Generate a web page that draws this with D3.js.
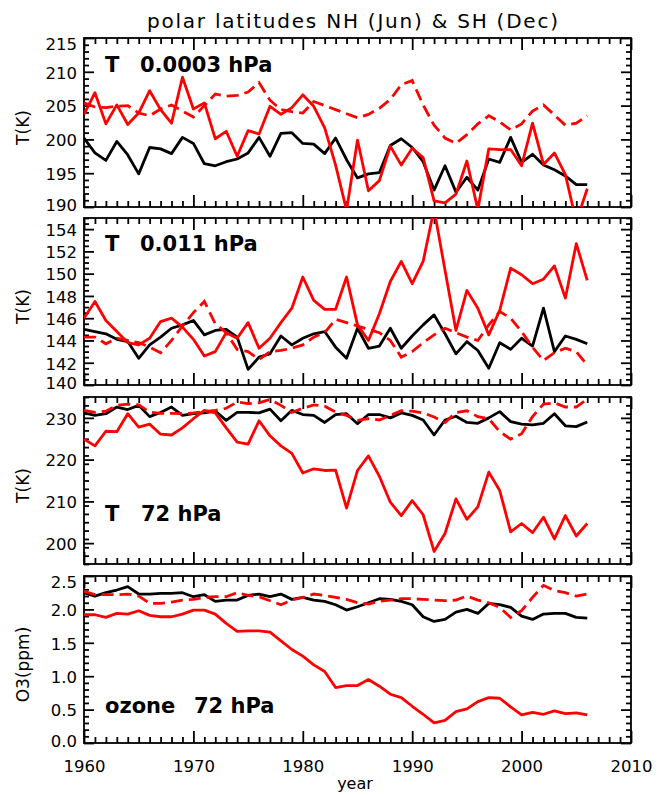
<!DOCTYPE html>
<html><head><meta charset="utf-8">
<script src="https://cdn.jsdelivr.net/npm/d3@7"></script>
<style>
body{margin:0;background:#fff}
svg text{font-family:"DejaVu Sans",sans-serif;fill:#000}
</style>
</head><body>
<svg id="c" width="663" height="795"></svg>
<script>
// ---------------- data ----------------
const years = [1960,1961,1962,1963,1964,1965,1966,1967,1968,1969,
               1970,1971,1972,1973,1974,1975,1976,1977,1978,1979,
               1980,1981,1982,1983,1984,1985,1986,1987,1988,1989,
               1990,1991,1992,1993,1994,1995,1996,1997,1998,1999,
               2000,2001,2002,2003,2004,2005,2006];
const xTickLabels = [1960,1970,1980,1990,2000,2010];

// T at 0.0003 hPa
const p1Black = [200.2,198.0,196.9,199.7,197.7,194.9,198.8,198.6,197.9,200.3,
                 199.4,196.4,196.1,196.7,197.1,198.0,200.3,197.5,200.9,201.0,
                 199.4,199.3,197.9,200.2,197.0,194.3,194.9,195.1,199.1,200.1,
                 198.8,196.7,192.5,196.1,192.2,194.4,192.5,197.1,196.6,200.3,
                 196.6,197.8,196.2,195.5,194.6,193.3,193.3];
const p1Red   = [203.7,206.9,202.3,205.1,202.2,203.9,207.2,204.4,202.4,209.2,
                 204.5,205.4,200.1,201.2,197.5,201.3,200.8,204.9,203.7,204.7,
                 206.6,204.9,201.7,196.2,189.5,199.9,192.4,193.9,199.0,196.2,
                 198.7,197.3,190.9,190.6,191.9,196.8,189.6,198.6,198.5,198.5,
                 196.1,202.4,196.3,198.0,194.8,187.8,192.7];
const p1Dash  = [205.4,204.8,204.7,204.9,205.0,203.9,203.5,204.5,205.1,204.2,
                 203.3,205.0,206.7,206.4,206.5,207.0,208.4,205.8,204.4,204.1,
                 203.9,205.6,205.0,204.4,203.8,203.2,203.7,204.6,205.9,208.1,
                 208.7,205.1,202.1,200.2,199.4,200.7,202.3,203.5,202.6,201.4,
                 202.3,204.2,205.1,203.6,202.1,202.4,203.5];
const p1Ticks = [190,195,200,205,210,215];

// T at 0.011 hPa
const p2Black = [145.0,144.8,144.6,144.1,143.9,142.4,143.6,144.3,145.1,145.4,
                 145.8,144.5,144.9,145.0,144.3,141.4,142.5,142.8,144.4,143.6,
                 144.2,144.6,144.8,143.4,142.4,145.1,143.3,143.5,145.1,143.3,
                 144.4,145.4,146.3,144.6,142.8,143.9,143.1,141.5,143.8,143.2,
                 144.2,143.5,146.9,143.0,144.4,144.1,143.7];
const p2Red   = [146.0,147.5,145.8,144.8,143.8,143.6,144.2,145.7,146.0,145.2,
                 144.1,142.6,143.0,144.7,144.2,145.6,143.3,144.2,145.6,146.9,
                 149.7,147.6,146.8,146.8,149.7,145.4,144.0,146.4,149.3,151.1,
                 149.1,151.1,155.8,150.3,144.9,148.5,146.9,144.5,146.7,150.5,
                 149.9,149.1,149.5,150.7,147.8,152.7,149.4];
const p2Dash  = [144.3,144.3,143.7,144.2,144.0,143.8,143.4,142.9,144.0,145.3,
                 146.5,147.5,145.5,144.7,143.2,143.0,142.3,143.0,143.1,143.3,
                 143.6,144.3,144.7,145.9,145.6,145.3,145.0,144.7,144.0,142.5,
                 143.0,143.8,144.5,145.1,144.7,144.3,144.0,145.4,146.6,146.0,
                 144.8,143.4,142.2,142.9,143.3,143.0,141.8];
const p2Ticks = [140,142,144,146,148,150,152,154];

// T at 72 hPa
const p3Black = [231.2,230.6,231.0,232.6,232.0,233.0,230.3,231.3,232.6,230.6,
                 231.0,231.2,231.6,229.4,231.3,231.3,231.2,232.1,229.3,231.8,
                 230.8,230.6,228.9,230.8,231.0,228.6,230.8,230.8,230.0,231.2,
                 230.6,229.5,225.9,229.5,230.4,228.9,228.7,230.0,231.5,229.1,
                 228.5,228.3,228.7,231.0,228.1,227.9,229.0];
const p3Red   = [224.9,223.3,226.8,226.7,231.0,227.8,228.5,226.1,225.9,227.6,
                 229.8,231.8,231.2,227.6,224.2,223.7,229.3,225.7,223.3,221.5,
                 216.8,217.8,217.4,217.5,208.4,217.4,220.9,216.0,209.8,206.6,
                 210.2,206.8,198.0,202.3,210.6,205.7,208.7,217.0,212.6,202.7,
                 204.7,202.5,206.2,201.0,206.6,201.7,204.7];
const p3Dash  = [231.8,231.3,231.6,233.0,233.3,233.1,231.4,231.1,231.1,231.0,
                 231.2,231.5,231.8,232.3,233.8,233.4,233.6,234.4,233.0,231.3,
                 232.3,233.1,232.8,231.4,230.6,229.4,229.8,229.5,230.6,231.7,
                 231.6,231.2,230.2,228.9,231.3,231.7,230.3,229.8,226.7,224.9,
                 226.2,230.3,233.3,233.6,232.6,232.6,234.5];
const p3Ticks = [200,210,220,230];

// ozone at 72 hPa
const p4Black = [2.25,2.20,2.25,2.29,2.34,2.23,2.23,2.24,2.24,2.25,
                 2.19,2.22,2.12,2.14,2.14,2.21,2.23,2.19,2.23,2.15,
                 2.18,2.14,2.12,2.07,1.99,2.04,2.10,2.16,2.15,2.12,
                 2.07,1.89,1.82,1.85,1.96,2.00,1.94,2.09,2.07,2.03,
                 1.90,1.85,1.93,1.94,1.94,1.88,1.87];
const p4Red   = [1.92,1.92,1.88,1.94,1.93,1.98,1.91,1.89,1.89,1.93,
                 1.99,1.99,1.93,1.79,1.67,1.68,1.68,1.66,1.53,1.40,
                 1.30,1.17,1.07,0.83,0.86,0.86,0.95,0.85,0.73,0.68,
                 0.55,0.43,0.30,0.34,0.47,0.51,0.62,0.68,0.67,0.54,
                 0.42,0.46,0.43,0.48,0.44,0.45,0.42];
const p4Dash  = [2.27,2.22,2.22,2.22,2.23,2.20,2.09,2.09,2.11,2.14,
                 2.15,2.18,2.19,2.19,2.25,2.21,2.19,2.13,2.07,2.14,
                 2.18,2.23,2.21,2.18,2.15,2.10,2.08,2.12,2.14,2.16,
                 2.16,2.15,2.14,2.13,2.14,2.20,2.14,2.10,2.03,1.88,
                 1.98,2.18,2.36,2.28,2.25,2.20,2.23];
const p4Ticks = [0.0,0.5,1.0,1.5,2.0,2.5];

// ---------------- layout ----------------
const svg = d3.select("#c");
const X0 = 84, X1 = 631;
const x = d3.scaleLinear().domain([1960, 2010]).range([X0, X1]);

const panels = [
  {top:38,  bottom:207, domain:[190,215], ticks:p1Ticks, minor:1,   fmt:d3.format("d"),
   ytitle:"T(K)", black:p1Black, red:p1Red, dash:p1Dash, labA:"T", labB:"0.0003 hPa", labY:72, labBX:140},
  {top:218, bottom:385, domain:[140,155], ticks:p2Ticks, minor:0.5, fmt:d3.format("d"),
   ytitle:"T(K)", black:p2Black, red:p2Red, dash:p2Dash, labA:"T", labB:"0.011 hPa", labY:251, labBX:140},
  {top:397, bottom:564, domain:[195,235], ticks:p3Ticks, minor:2,   fmt:d3.format("d"),
   ytitle:"T(K)", black:p3Black, red:p3Red, dash:p3Dash, labA:"T", labB:"72 hPa", labY:521, labBX:141},
  {top:576, bottom:743, domain:[0,2.5],   ticks:p4Ticks, minor:0.1, fmt:d3.format(".1f"),
   ytitle:"O3(ppm)", black:p4Black, red:p4Red, dash:p4Dash, labA:"ozone", labB:"72 hPa", labY:713, labBX:194}
];

const xMinor = d3.range(1960, 2010.5, 1);

function styleAxis(g, fs){
  g.select(".domain").remove();
  g.selectAll(".tick line").attr("stroke","#000").attr("stroke-width",1.8);
  g.selectAll(".tick text").attr("font-size",fs).attr("fill","#000")
   .style("font-family","DejaVu Sans, sans-serif");
}

panels.forEach((p, i) => {
  const y = d3.scaleLinear().domain(p.domain).range([p.bottom, p.top]);
  const g = svg.append("g");
  const cid = "clip" + i;
  svg.append("clipPath").attr("id", cid).append("rect")
    .attr("x", X0).attr("y", p.top).attr("width", X1 - X0).attr("height", p.bottom - p.top);

  const yMinor = d3.range(p.domain[0], p.domain[1] + p.minor / 2, p.minor)
    .filter(v => !p.ticks.some(t => Math.abs(t - v) < 1e-6));

  g.append("g").attr("transform", `translate(${X0},0)`)
    .call(d3.axisLeft(y).tickValues(yMinor).tickSize(-5).tickSizeOuter(0).tickFormat(""))
    .call(a => styleAxis(a, 16.5));
  g.append("g").attr("transform", `translate(${X1},0)`)
    .call(d3.axisRight(y).tickValues(yMinor).tickSize(-5).tickSizeOuter(0).tickFormat(""))
    .call(a => styleAxis(a, 16.5));
  const yl = g.append("g").attr("transform", `translate(${X0},0)`)
    .call(d3.axisLeft(y).tickValues(p.ticks).tickSize(-10).tickSizeOuter(0).tickPadding(7).tickFormat(p.fmt))
    .call(a => styleAxis(a, 16.5));
  yl.selectAll(".tick text").attr("dy", d => {
    if (Math.abs(d - p.domain[1]) < 1e-6) return "0.72em";
    if (Math.abs(d - p.domain[0]) < 1e-6) return "0.2em";
    return "0.38em";
  });
  g.append("g").attr("transform", `translate(${X1},0)`)
    .call(d3.axisRight(y).tickValues(p.ticks).tickSize(-10).tickSizeOuter(0).tickFormat(""))
    .call(a => styleAxis(a, 16.5));

  const xMin = xMinor.filter(v => !xTickLabels.includes(v));
  g.append("g").attr("transform", `translate(0,${p.top})`)
    .call(d3.axisTop(x).tickValues(xMin).tickSize(-6).tickSizeOuter(0).tickFormat(""))
    .call(a => styleAxis(a, 16.5));
  g.append("g").attr("transform", `translate(0,${p.top})`)
    .call(d3.axisTop(x).tickValues(xTickLabels).tickSize(-12).tickSizeOuter(0).tickFormat(""))
    .call(a => styleAxis(a, 16.5));
  g.append("g").attr("transform", `translate(0,${p.bottom})`)
    .call(d3.axisBottom(x).tickValues(xMin).tickSize(-6).tickSizeOuter(0).tickFormat(""))
    .call(a => styleAxis(a, 16.5));
  g.append("g").attr("transform", `translate(0,${p.bottom})`)
    .call(d3.axisBottom(x).tickValues(xTickLabels).tickSize(-12).tickSizeOuter(0).tickPadding(17)
      .tickFormat(i === panels.length - 1 ? d3.format("d") : ""))
    .call(a => styleAxis(a, 16.5));

  g.append("rect").attr("x", X0).attr("y", p.top).attr("width", X1 - X0).attr("height", p.bottom - p.top)
    .attr("fill", "none").attr("stroke", "#000").attr("stroke-width", 1.8);

  const line = d3.line().x((d, k) => x(years[k])).y(d => y(d));
  const lg = g.append("g").attr("clip-path", `url(#${cid})`);
  lg.append("path").datum(p.black).attr("d", line)
    .attr("fill","none").attr("stroke","#000").attr("stroke-width",2.8).attr("stroke-linejoin","round");
  lg.append("path").datum(p.dash).attr("d", line)
    .attr("fill","none").attr("stroke","#ff0000").attr("stroke-width",2.8).attr("stroke-dasharray","12,6");
  lg.append("path").datum(p.red).attr("d", line)
    .attr("fill","none").attr("stroke","#ff0000").attr("stroke-width",2.8).attr("stroke-linejoin","round");

  g.append("text").attr("x", 105).attr("y", p.labY).attr("font-size", 21).attr("font-weight", "bold").text(p.labA);
  g.append("text").attr("x", p.labBX).attr("y", p.labY).attr("font-size", 21).attr("font-weight", "bold").text(p.labB);

  const cy = (p.top + p.bottom) / 2 + 5;
  g.append("text").attr("transform", `translate(29,${cy}) rotate(-90)`)
    .attr("text-anchor", "middle").attr("font-size", 17).text(p.ytitle);
});

svg.append("text").attr("x", 147).attr("y", 28).attr("font-size", 20)
  .attr("textLength", 411).attr("lengthAdjust", "spacing")
  .text("polar latitudes NH (Jun) & SH (Dec)");

svg.append("text").attr("x", 355).attr("y", 789).attr("text-anchor", "middle")
  .attr("font-size", 16).text("year");
</script>
</body></html>
